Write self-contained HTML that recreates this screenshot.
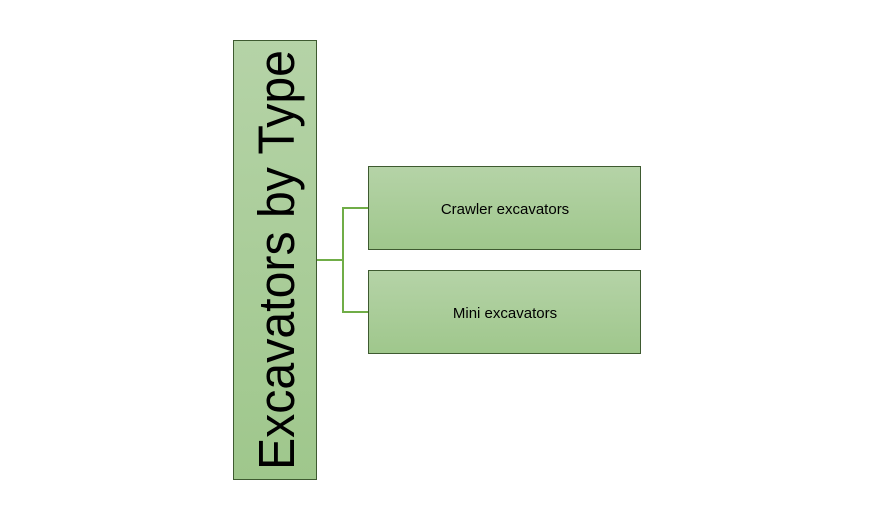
<!DOCTYPE html>
<html><head><meta charset="utf-8"><style>
html,body{margin:0;padding:0;background:#fff;width:872px;height:509px;overflow:hidden}
</style></head><body>
<svg width="872" height="509" viewBox="0 0 872 509" xmlns="http://www.w3.org/2000/svg">
<defs>
<linearGradient id="g" x1="0" y1="0" x2="0" y2="1">
<stop offset="0" stop-color="#b5d3a7"/><stop offset="1" stop-color="#9fc78c"/>
</linearGradient>
<linearGradient id="g2" x1="0" y1="0" x2="1" y2="0">
<stop offset="0" stop-color="#a0c68e"/><stop offset="1" stop-color="#a9cb99"/>
</linearGradient>
</defs>
<rect x="233.5" y="40.5" width="83" height="439" fill="url(#g)" stroke="#3e5a30" stroke-width="1"/>
<text transform="translate(294,470) rotate(-90)" font-family="Liberation Sans, sans-serif" font-size="51" fill="#000" textLength="420" lengthAdjust="spacingAndGlyphs">Excavators by Type</text>
<path d="M317 260 H343 M343 207.5 V312.5 M342 208 H368 M342 312 H368" stroke="#70ad47" stroke-width="2" fill="none"/>
<rect x="368.5" y="166.5" width="272" height="83" fill="url(#g)" stroke="#3e5a30" stroke-width="1"/>
<rect x="368.5" y="270.5" width="272" height="83" fill="url(#g)" stroke="#3e5a30" stroke-width="1"/>
<text x="505" y="214" text-anchor="middle" font-family="Liberation Sans, sans-serif" font-size="15" fill="#000">Crawler excavators</text>
<text x="505" y="318" text-anchor="middle" font-family="Liberation Sans, sans-serif" font-size="15" fill="#000">Mini excavators</text>
</svg>
</body></html>
